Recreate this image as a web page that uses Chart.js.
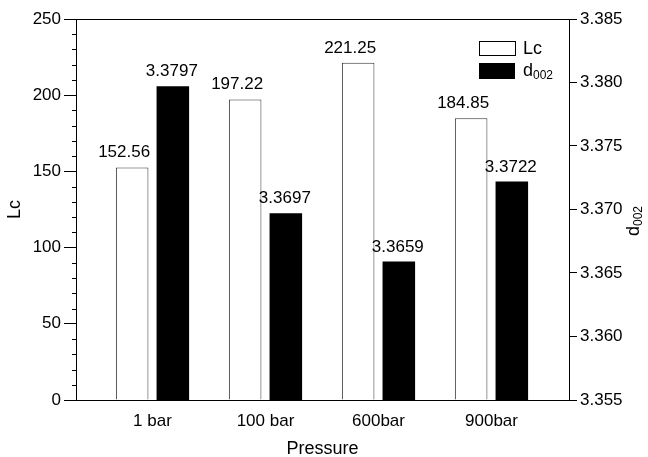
<!DOCTYPE html>
<html>
<head>
<meta charset="utf-8">
<script src="https://cdn.jsdelivr.net/npm/chart.js@4"></script>
<style>
  html, body { margin: 0; padding: 0; background: #fff; }
  #wrap { width: 648px; height: 457px; }
</style>
</head>
<body>
<div id="wrap"><canvas id="pressureChart" width="648" height="457"></canvas></div>
<script>
// данные
const pressures = ['1 bar', '100 bar', '600bar', '900bar'];
const lcValues = [152.56, 197.22, 221.25, 184.85];
const d002Values = [3.3797, 3.3697, 3.3659, 3.3722];
const lcRange = [0, 250];
const dRange = [3.355, 3.385];

const FONT = '"Liberation Sans", Arial, sans-serif';

// подписи, рамка, легенда, малые деления
const extras = {
  id: 'extras',
  afterDraw(chart) {
    const { ctx, chartArea: a } = chart;
    const yL = chart.scales.y;
    ctx.save();
    ctx.strokeStyle = '#000';
    ctx.lineWidth = 1;

    // верхняя рамка
    ctx.beginPath();
    ctx.moveTo(a.left, a.top + 0.5);
    ctx.lineTo(a.right, a.top + 0.5);
    ctx.stroke();

    // малые деления слева
    for (let v = lcRange[0]; v <= lcRange[1]; v += 10) {
      if (v % 50 === 0) continue;
      const py = Math.round(yL.getPixelForValue(v)) + 0.5;
      ctx.beginPath();
      ctx.moveTo(a.left - 4, py);
      ctx.lineTo(a.left, py);
      ctx.stroke();
    }

    // значения над столбцами
    ctx.fillStyle = '#000';
    ctx.font = '17px ' + FONT;
    ctx.textAlign = 'center';
    ctx.textBaseline = 'alphabetic';
    chart.data.datasets.forEach((ds, i) => {
      const meta = chart.getDatasetMeta(i);
      meta.data.forEach((bar, j) => {
        const txt = i === 0 ? lcValues[j].toFixed(2) : d002Values[j].toFixed(4);
        const dx = i === 0 ? -8 : -1;
        ctx.fillText(txt, bar.x + dx, bar.y - 10);
      });
    });

    // легенда
    const lx = a.right - 90;
    ctx.fillStyle = '#fff';
    ctx.fillRect(lx, 41, 37, 15);
    ctx.strokeRect(lx + 0.5, 41.5, 36, 14);
    ctx.fillStyle = '#000';
    ctx.fillRect(lx, 63, 36, 16);
    ctx.textAlign = 'left';
    ctx.textBaseline = 'middle';
    ctx.font = '18px ' + FONT;
    ctx.fillText('Lc', lx + 44, 49);
    ctx.fillText('d', lx + 44, 71);
    const dw = ctx.measureText('d').width;
    ctx.font = '12px ' + FONT;
    ctx.fillText('002', lx + 44 + dw, 76);

    // правая подпись оси
    ctx.save();
    ctx.translate(634, 221);
    ctx.rotate(-Math.PI / 2);
    ctx.font = '18px ' + FONT;
    const w1 = ctx.measureText('d').width;
    ctx.font = '12px ' + FONT;
    const w2 = ctx.measureText('002').width;
    const sx = -(w1 + w2) / 2;
    ctx.font = '18px ' + FONT;
    ctx.fillText('d', sx, 0);
    ctx.font = '12px ' + FONT;
    ctx.fillText('002', sx + w1, 5);
    ctx.restore();

    ctx.restore();
  }
};

new Chart(document.getElementById('pressureChart'), {
  type: 'bar',
  data: {
    datasets: [{
      label: 'Lc',
      data: lcValues.map((v, i) => ({ x: i + 1, y: v })),
      backgroundColor: '#fff',
      borderColor: '#333',
      borderWidth: 1,
      yAxisID: 'y',
      barPercentage: 0.8,
      categoryPercentage: 0.72
    }, {
      label: 'd002',
      data: d002Values.map((v, i) => ({ x: i + 1, y: v })),
      backgroundColor: '#000',
      borderWidth: 0,
      yAxisID: 'y2',
      barPercentage: 0.8,
      categoryPercentage: 0.72
    }]
  },
  options: {
    responsive: false,
    animation: false,
    devicePixelRatio: 1,
    layout: { padding: { top: 19, left: 0, right: 0, bottom: 0 } },
    plugins: {
      legend: { display: false },
      tooltip: { enabled: false }
    },
    scales: {
      x: {
        type: 'linear',
        position: 'bottom',
        offset: false,
        min: 0.323,
        max: 4.686,
        afterBuildTicks: s => { s.ticks = pressures.map((p, i) => ({ value: i + 1 })); },
        afterFit: s => { s.height = 57; },
        grid: { display: false },
        border: { color: '#000', width: 1 },
        ticks: {
          color: '#000',
          font: { family: FONT, size: 17 },
          padding: 3,
          callback: v => pressures[v - 1]
        },
        title: {
          display: true,
          text: 'Pressure',
          color: '#000',
          font: { family: FONT, size: 18 },
          padding: { top: 0, bottom: -3 }
        }
      },
      y: {
        position: 'left',
        min: lcRange[0],
        max: lcRange[1],
        afterFit: s => { s.width = 76; },
        grid: { drawOnChartArea: false, color: '#000', tickLength: 12 },
        border: { color: '#000', width: 1 },
        ticks: {
          stepSize: 50,
          color: '#000',
          padding: 3,
          font: { family: FONT, size: 17 }
        },
        title: {
          display: true,
          text: 'Lc',
          color: '#000',
          font: { family: FONT, size: 18 },
          padding: { top: 4, bottom: 0 }
        }
      },
      y2: {
        position: 'right',
        min: dRange[0],
        max: dRange[1],
        afterFit: s => { s.width = 79; },
        grid: { drawOnChartArea: false, color: '#000', tickLength: 8 },
        border: { color: '#000', width: 1 },
        ticks: {
          stepSize: 0.005,
          color: '#000',
          padding: 3,
          font: { family: FONT, size: 17 },
          callback: v => v.toFixed(3)
        }
      }
    }
  },
  plugins: [extras]
});
</script>
</body>
</html>
